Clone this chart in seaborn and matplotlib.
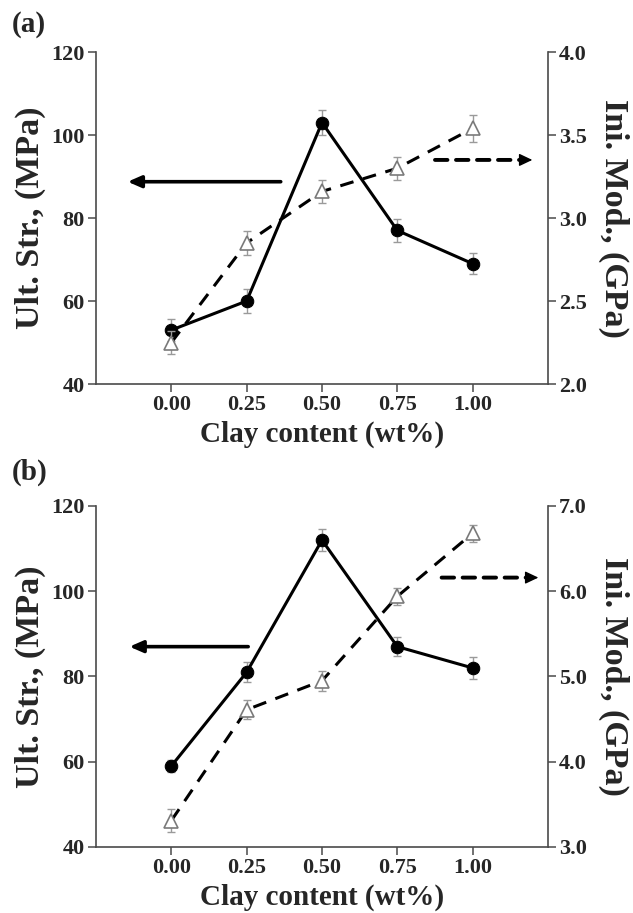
import numpy as np
import pandas as pd
import matplotlib
matplotlib.use("Agg")
import matplotlib.pyplot as plt
import seaborn as sns

# ---------------- data ----------------
clay = [0.0, 0.25, 0.50, 0.75, 1.00]
clay_labels = ["0.00", "0.25", "0.50", "0.75", "1.00"]

str_a = [53, 60, 103, 77, 69]
str_a_err = [2.7, 3.0, 3.0, 2.8, 2.5]
mod_a = [2.25, 2.85, 3.16, 3.30, 3.54]
mod_a_err = [0.07, 0.07, 0.07, 0.07, 0.08]

str_b = [59, 81, 112, 87, 82]
str_b_err = [1.5, 2.3, 2.5, 2.3, 2.5]
mod_b = [3.31, 4.61, 4.95, 5.94, 6.68]
mod_b_err = [0.13, 0.11, 0.12, 0.10, 0.10]

left_ticks = [40, 60, 80, 100, 120]
right_ticks_a = [2.0, 2.5, 3.0, 3.5, 4.0]
right_ticks_b = [3.0, 4.0, 5.0, 6.0, 7.0]

# annotation arrows (start, end) in data coordinates
arrow_a_left = ((0.363, 88.75), (-0.145, 88.75))
arrow_a_right = ((0.875, 3.35), (1.198, 3.35))
arrow_b_left = ((0.255, 87.0), (-0.139, 87.0))
arrow_b_right = ((0.897, 6.16), (1.218, 6.16))

# ---------------- style ----------------
sns.set_style("ticks")
plt.rcParams["font.family"] = ["Liberation Serif", "DejaVu Serif"]
plt.rcParams["font.weight"] = "bold"

SPINE = "#4a4a4a"
ERR = "#9a9a9a"

fig = plt.figure(figsize=(6.33, 9.13), dpi=100)


def panel(rect, s, s_err, m, m_err, rticks, arr_l, arr_r, letter, letter_y):
    ax = fig.add_axes(rect)
    df = pd.DataFrame({"clay": clay, "str": s, "mod": m})
    ax.errorbar(clay, s, yerr=s_err, fmt="none", ecolor=ERR, elinewidth=1.0,
                capsize=3, capthick=1.0, zorder=2)
    sns.lineplot(data=df, x="clay", y="str", ax=ax, color="black", lw=2.2,
                 marker="o", markersize=9, markeredgecolor="black",
                 markerfacecolor="black", zorder=3)
    ax.set_xlim(-0.25, 1.25)
    ax.set_ylim(left_ticks[0], left_ticks[-1])
    ax.set_xticks(clay)
    ax.set_xticklabels(clay_labels)
    ax.set_yticks(left_ticks)
    ax.set_yticklabels([str(t) for t in left_ticks])
    ax.set_xlabel("Clay content (wt%)", fontsize=21, fontweight="bold", labelpad=4)
    ax.set_ylabel("Ult. Str., (MPa)", fontsize=24.5, fontweight="bold", labelpad=4)

    ax2 = ax.twinx()
    ax2.errorbar(clay, m, yerr=m_err, fmt="none", ecolor=ERR, elinewidth=1.0,
                 capsize=3, capthick=1.0, zorder=2)
    sns.lineplot(data=df, x="clay", y="mod", ax=ax2, color="black", lw=2.2,
                 linestyle=(0, (4.5, 3.2)), marker="^", markersize=10,
                 markerfacecolor="white", markeredgecolor="#7a7a7a",
                 markeredgewidth=1.2, zorder=3)
    ax2.set_ylim(rticks[0], rticks[-1])
    ax2.set_yticks(rticks)
    ax2.set_yticklabels([f"{t:.1f}" for t in rticks])
    ax2.set_ylabel("Ini. Mod., (GPa)", fontsize=24.5, fontweight="bold",
                   rotation=270, va="bottom", labelpad=8)

    for a in (ax, ax2):
        a.spines["top"].set_visible(False)
        for sp in ("left", "right", "bottom"):
            a.spines[sp].set_color(SPINE)
            a.spines[sp].set_linewidth(1.2)
        a.tick_params(direction="out", length=6, width=1.1, color=SPINE,
                      labelsize=16, pad=2)
        for lab in a.get_xticklabels() + a.get_yticklabels():
            lab.set_fontweight("bold")
    ax.spines["right"].set_visible(False)
    ax2.spines["left"].set_visible(False)
    ax2.spines["bottom"].set_visible(False)

    # solid arrow pointing to the left axis
    ax.annotate("", xy=arr_l[1], xytext=arr_l[0],
                arrowprops=dict(arrowstyle="-|>,head_length=0.8,head_width=0.35",
                                color="black", lw=2.6, shrinkA=0, shrinkB=0))
    # dashed arrow pointing to the right axis: dashed shaft + solid head
    (x0, y0), (x1, y1) = arr_r
    ax2.annotate("", xy=(x1 - 0.03, y1), xytext=(x0, y0),
                 arrowprops=dict(arrowstyle="-", color="black", lw=2.8,
                                 linestyle=(0, (3.2, 2.2)),
                                 shrinkA=0, shrinkB=0))
    ax2.annotate("", xy=(x1, y1), xytext=(x1 - 0.035, y1),
                 arrowprops=dict(arrowstyle="-|>,head_length=0.8,head_width=0.38",
                                 color="black", lw=1.0, shrinkA=0, shrinkB=0))

    fig.text(0.018, letter_y, letter, fontsize=21, fontweight="bold",
             va="center", ha="left")
    return ax, ax2


panel([0.1517, 0.5794, 0.714, 0.3636], str_a, str_a_err, mod_a, mod_a_err,
      right_ticks_a, arrow_a_left, arrow_a_right, "(a)", 1 - 25 / 913)
panel([0.1517, 0.0723, 0.714, 0.3735], str_b, str_b_err, mod_b, mod_b_err,
      right_ticks_b, arrow_b_left, arrow_b_right, "(b)", 1 - 472 / 913)

fig.savefig("out.png", dpi=100, facecolor="white")
